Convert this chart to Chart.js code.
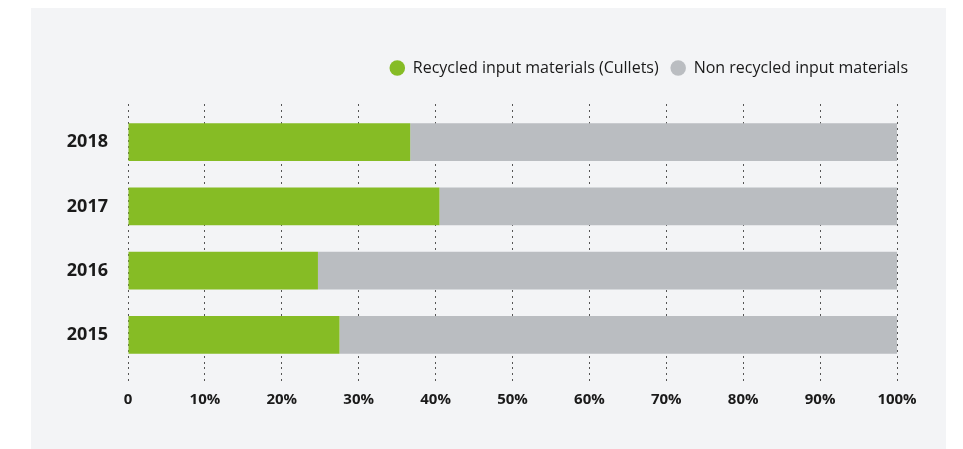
<!DOCTYPE html>
<html>
<head>
    <meta charset="UTF-8">
    <title>Recycled input materials</title>
    <style>
        body {
            margin: 0;
            background-color: white;
        }
        #panel {
            position: absolute;
            left: 31px;
            top: 8px;
            width: 915px;
            height: 441px;
            background-color: #f3f4f6;
        }
    </style>
    <script src="https://cdn.jsdelivr.net/npm/chart.js"></script>
</head>
<body>
    <div id="panel">
        <canvas id="inputChart"></canvas>
    </div>
    <script>
        // data (percent of input materials)
        const years = ['2018', '2017', '2016', '2015'];
        const recycled = [36.7, 40.5, 24.7, 27.5];
        const nonRecycled = [63.3, 59.5, 75.3, 72.5];
        const pctTicks = ['0', '10%', '20%', '30%', '40%', '50%', '60%', '70%', '80%', '90%', '100%'];

        const textColor = '#1a1a1a';
        const dotColor = '#555555';

        const config = {
            type: 'bar',
            data: {
                labels: years,
                datasets: [{
                    label: 'Recycled input materials (Cullets)',
                    data: recycled,
                    backgroundColor: '#86bc25',
                    borderWidth: 0
                }, {
                    label: 'Non recycled input materials',
                    data: nonRecycled,
                    backgroundColor: '#babdc1',
                    borderWidth: 0
                }]
            },
            options: {
                indexAxis: 'y',
                responsive: true,
                maintainAspectRatio: false,
                animation: false,
                datasets: {
                    bar: { barPercentage: 1, categoryPercentage: 0.59 }
                },
                layout: {
                    padding: { top: 40, right: 26, left: 0, bottom: 0 }
                },
                plugins: {
                    legend: {
                        position: 'top',
                        align: 'end',
                        labels: {
                            usePointStyle: true,
                            pointStyle: 'circle',
                            boxWidth: 15,
                            boxHeight: 11,
                            padding: 12,
                            color: textColor,
                            font: { family: '"Open Sans"', size: 16 }
                        }
                    },
                    tooltip: { enabled: false }
                },
                scales: {
                    x: {
                        type: 'linear',
                        position: 'bottom',
                        stacked: true,
                        min: 0,
                        max: 100,
                        ticks: {
                            stepSize: 10,
                            padding: 10,
                            color: textColor,
                            font: { family: '"Open Sans"', size: 15, weight: 'bold' },
                            callback: (v, i) => pctTicks[i]
                        },
                        grid: {
                            color: dotColor,
                            tickColor: dotColor,
                            tickLength: 14,
                            tickBorderDash: [2, 4]
                        },
                        border: { display: false, dash: [2, 4] },
                        afterFit: (s) => { s.paddingRight = 49; s.height = 82; }
                    },
                    xTop: {
                        type: 'linear',
                        axis: 'x',
                        position: 'top',
                        min: 0,
                        max: 100,
                        ticks: { stepSize: 10, display: false },
                        grid: {
                            drawOnChartArea: false,
                            color: dotColor,
                            tickColor: dotColor,
                            tickLength: 6,
                            tickBorderDash: [2, 4]
                        },
                        border: { display: false },
                        afterFit: (s) => { s.height = 24; }
                    },
                    y: {
                        stacked: true,
                        grid: { display: false, drawTicks: false },
                        border: { display: false },
                        ticks: {
                            padding: 20,
                            color: textColor,
                            font: { family: '"Open Sans"', size: 18, weight: 'bold' }
                        },
                        afterFit: (s) => { s.width = 97; }
                    }
                }
            }
        };

        new Chart(document.getElementById('inputChart'), config);
    </script>
</body>
</html>
